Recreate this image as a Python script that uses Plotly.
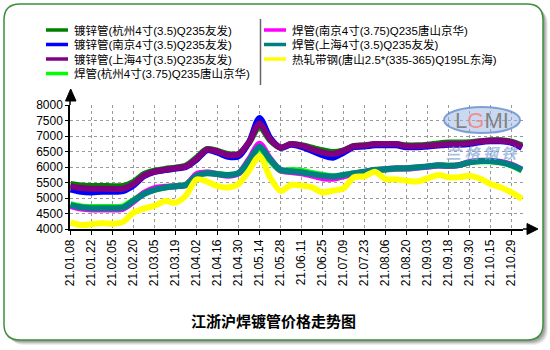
import plotly.graph_objects as go

# Weekly quotation dates (ticks shown every other week)
dates = ["21.01.08", "21.01.15", "21.01.22", "21.01.29", "21.02.05", "21.02.10",
         "21.02.20", "21.02.26", "21.03.05", "21.03.12", "21.03.19", "21.03.26",
         "21.04.02", "21.04.09", "21.04.16", "21.04.23", "21.04.30", "21.05.07",
         "21.05.14", "21.05.21", "21.05.28", "21.06.04", "21.06.11", "21.06.18",
         "21.06.25", "21.07.02", "21.07.09", "21.07.16", "21.07.23", "21.07.30",
         "21.08.06", "21.08.13", "21.08.20", "21.08.27", "21.09.03", "21.09.10",
         "21.09.18", "21.09.24", "21.09.30", "21.10.08", "21.10.15", "21.10.22",
         "21.10.29", "21.11.05"]
tick_dates = dates[::2]

names = ["镀锌管(杭州4寸(3.5)Q235友发)",
         "镀锌管(南京4寸(3.5)Q235友发)",
         "镀锌管(上海4寸(3.5)Q235友发)",
         "焊管(杭州4寸(3.75)Q235唐山京华)",
         "焊管(南京4寸(3.75)Q235唐山京华)",
         "焊管(上海4寸(3.5)Q235友发)",
         "热轧带钢(唐山2.5*(335-365)Q195L东海)"]
colors = ["#008000", "#0000FF", "#800080", "#00FF00", "#FF00FF", "#008080", "#FFFF00"]

galv_hz = [5450, 5400, 5390, 5390, 5380, 5390, 5520, 5780, 5880, 5940,
           5980, 6050, 6300, 6580, 6520, 6420, 6420, 6780, 7300, 6860,
           6620, 6740, 6700, 6620, 6540, 6480, 6540, 6680, 6700, 6740,
           6740, 6740, 6700, 6700, 6720, 6760, 6790, 6790, 6800, 6830,
           6860, 6860, 6820, 6700]
galv_nj = [5270, 5200, 5180, 5200, 5200, 5220, 5400, 5700, 5840, 5900,
           5950, 6000, 6230, 6540, 6460, 6330, 6340, 6800, 7580, 6950,
           6620, 6720, 6650, 6520, 6380, 6300, 6460, 6640, 6660, 6700,
           6700, 6700, 6640, 6640, 6660, 6690, 6720, 6720, 6740, 6800,
           6830, 6830, 6780, 6620]
galv_sh = [5380, 5320, 5300, 5300, 5290, 5300, 5450, 5720, 5850, 5910,
           5960, 6020, 6260, 6560, 6500, 6390, 6410, 6800, 7400, 6900,
           6630, 6740, 6690, 6580, 6470, 6420, 6520, 6670, 6690, 6740,
           6740, 6740, 6670, 6670, 6690, 6710, 6740, 6740, 6770, 6820,
           6850, 6850, 6800, 6650]
weld_hz = [4800, 4730, 4710, 4710, 4710, 4730, 4930, 5150, 5270, 5340,
           5380, 5440, 5740, 5820, 5780, 5740, 5800, 6150, 6600, 6200,
           5880, 5900, 5880, 5810, 5750, 5700, 5740, 5790, 5830, 5890,
           5910, 5940, 5950, 5980, 6010, 6050, 6040, 6060, 6150, 6180,
           6180, 6140, 6050, 5880]
weld_nj = [4740, 4660, 4630, 4630, 4630, 4650, 4880, 5170, 5320, 5360,
           5380, 5420, 5770, 5820, 5770, 5720, 5790, 6250, 6750, 6280,
           5890, 5840, 5800, 5720, 5640, 5620, 5700, 5780, 5840, 5900,
           5930, 5950, 5950, 5980, 6010, 6050, 6030, 6060, 6160, 6200,
           6200, 6160, 6080, 5920]
weld_sh = [4770, 4700, 4670, 4670, 4670, 4690, 4910, 5130, 5260, 5340,
           5380, 5420, 5720, 5800, 5770, 5740, 5800, 6200, 6650, 6250,
           5910, 5860, 5830, 5770, 5720, 5690, 5740, 5800, 5850, 5910,
           5930, 5960, 5960, 5990, 6020, 6060, 6040, 6060, 6150, 6190,
           6190, 6150, 6060, 5910]
strip_ts = [4210, 4130, 4150, 4190, 4170, 4230, 4530, 4660, 4750, 4900,
            4850, 5080, 5600, 5530, 5380, 5340, 5450, 5880, 6350, 5670,
            5230, 5420, 5400, 5340, 5180, 5240, 5310, 5670, 5700, 5850,
            5610, 5600, 5560, 5530, 5630, 5740, 5670, 5670, 5720, 5630,
            5450, 5340, 5180, 4970]
series = [galv_hz, galv_nj, galv_sh, weld_hz, weld_nj, weld_sh, strip_ts]

title_text = "江浙沪焊镀管价格走势图"

W, H = 550, 350
X0, X1, YT, YB = 70, 523, 105, 229   # plot area in pixels
FONT = "Liberation Sans, Arial, Noto Sans CJK SC, sans-serif"
CJK = "Noto Sans CJK SC, sans-serif"


def px(x):
    return (x - X0) / (X1 - X0)


def py(y):
    return (YB - y) / (YB - YT)


def rounded(x0, y0, x1, y1, r):
    pts = [
        ("M", [(x0 + r, y0)]), ("L", [(x1 - r, y0)]), ("Q", [(x1, y0), (x1, y0 + r)]),
        ("L", [(x1, y1 - r)]), ("Q", [(x1, y1), (x1 - r, y1)]),
        ("L", [(x0 + r, y1)]), ("Q", [(x0, y1), (x0, y1 - r)]),
        ("L", [(x0, y0 + r)]), ("Q", [(x0, y0), (x0 + r, y0)]),
    ]
    out = ""
    for cmd, cs in pts:
        out += cmd + " ".join(f"{px(a):.5f},{py(b):.5f}" for a, b in cs) + " "
    return out + "Z"


fig = go.Figure()
for name, vals, col in zip(names, series, colors):
    fig.add_trace(go.Scatter(
        x=dates, y=vals, name=name, mode="lines",
        line=dict(color=col, width=6, shape="spline", smoothing=0.8),
        showlegend=False, hoverinfo="skip"))

shapes = []
# drop shadow and rounded frame
for off, op in [(5, 0.10), (4, 0.15), (3, 0.2), (2, 0.25)]:
    shapes.append(dict(type="path", xref="paper", yref="paper", layer="below",
                       path=rounded(4 + off, 4 + off, 543 + off, 340 + off, 16),
                       fillcolor=f"rgba(90,90,90,{op})", line=dict(width=0)))
shapes.append(dict(type="path", xref="paper", yref="paper", layer="below",
                   path=rounded(4, 4, 543, 340, 16), fillcolor="white",
                   line=dict(color="#3d8f3d", width=1.5)))

# axis extensions with arrow heads
shapes.append(dict(type="line", xref="paper", yref="paper", x0=px(X0), x1=px(X0),
                   y0=py(YT), y1=py(100), line=dict(color="black", width=1.5)))
shapes.append(dict(type="path", xref="paper", yref="paper",
                   path=f"M{px(65.5)},{py(101)} L{px(76)},{py(101)} L{px(70.7)},{py(89)} Z",
                   fillcolor="black", line=dict(color="black", width=1)))
shapes.append(dict(type="line", xref="paper", yref="paper", x0=px(X1), x1=px(527),
                   y0=py(YB), y1=py(YB), line=dict(color="black", width=1.5)))
shapes.append(dict(type="path", xref="paper", yref="paper",
                   path=f"M{px(527)},{py(223.5)} L{px(527)},{py(234.5)} L{px(538)},{py(229)} Z",
                   fillcolor="black", line=dict(color="black", width=1)))

# legend separator
shapes.append(dict(type="line", xref="paper", yref="paper", x0=px(260.5), x1=px(260.5),
                   y0=py(19), y1=py(85), line=dict(color="#666666", width=1.5)))

annotations = []
# two-column legend
rows = [30, 44.5, 59, 73.5]
for k, (name, col) in enumerate(zip(names, colors)):
    if k < 4:
        lx, ty = 46, rows[k]
    else:
        lx, ty = 264, rows[k - 4]
    shapes.append(dict(type="line", xref="paper", yref="paper",
                       x0=px(lx), x1=px(lx + 22), y0=py(ty), y1=py(ty),
                       line=dict(color=col, width=3.5)))
    annotations.append(dict(xref="paper", yref="paper", x=px(lx + 26), y=py(ty),
                            text=name, showarrow=False, xanchor="left", yanchor="middle",
                            font=dict(family=FONT, size=11.5, color="black")))

# watermark
shapes.append(dict(type="circle", xref="paper", yref="paper",
                   x0=px(444), x1=px(520), y0=py(133), y1=py(107),
                   fillcolor="rgba(150,180,225,0.5)", line=dict(color="rgba(100,140,205,0.8)", width=2)))
annotations.append(dict(xref="paper", yref="paper", x=px(482), y=py(120),
                        text="L<span style='color:#f28a8a'>G</span>MI", showarrow=False,
                        xanchor="center", yanchor="middle",
                        font=dict(family="Liberation Sans, Arial", size=22, color="rgba(125,125,125,0.95)")))
annotations.append(dict(xref="paper", yref="paper", x=px(482), y=py(152),
                        text="<b><i>兰 格 钢 铁</i></b>", showarrow=False, xanchor="center", yanchor="middle",
                        font=dict(family=CJK, size=15, color="rgba(130,165,215,0.7)")))

# chart title
annotations.append(dict(xref="paper", yref="paper", x=px(273), y=py(320),
                        text="<b>" + title_text + "</b>", showarrow=False,
                        xanchor="center", yanchor="middle",
                        font=dict(family=CJK, size=15, color="black")))

fig.update_layout(
    width=W, height=H,
    margin=dict(l=X0, r=W - X1, t=YT, b=H - YB, pad=0),
    paper_bgcolor="white", plot_bgcolor="rgba(0,0,0,0)",
    showlegend=False,
    shapes=shapes, annotations=annotations,
    xaxis=dict(type="category", range=[-0.05, 43.1], tickmode="array",
               tickvals=tick_dates, ticktext=tick_dates, tickangle=-90,
               showgrid=True, gridcolor="#9a9a9a", griddash="dot", gridwidth=1,
               showline=True, linecolor="black", linewidth=1.5,
               ticks="outside", ticklen=4, tickcolor="black", tickwidth=1,
               tickfont=dict(family=FONT, size=12, color="black"), zeroline=False),
    yaxis=dict(range=[4000, 8000], dtick=500, tick0=4000,
               showgrid=True, gridcolor="#9a9a9a", griddash="dot", gridwidth=1,
               showline=True, linecolor="black", linewidth=1.5,
               ticks="outside", ticklen=3, tickcolor="black", tickwidth=1,
               tickfont=dict(family=FONT, size=12, color="black"), zeroline=False),
)

fig.write_html("out.html")
